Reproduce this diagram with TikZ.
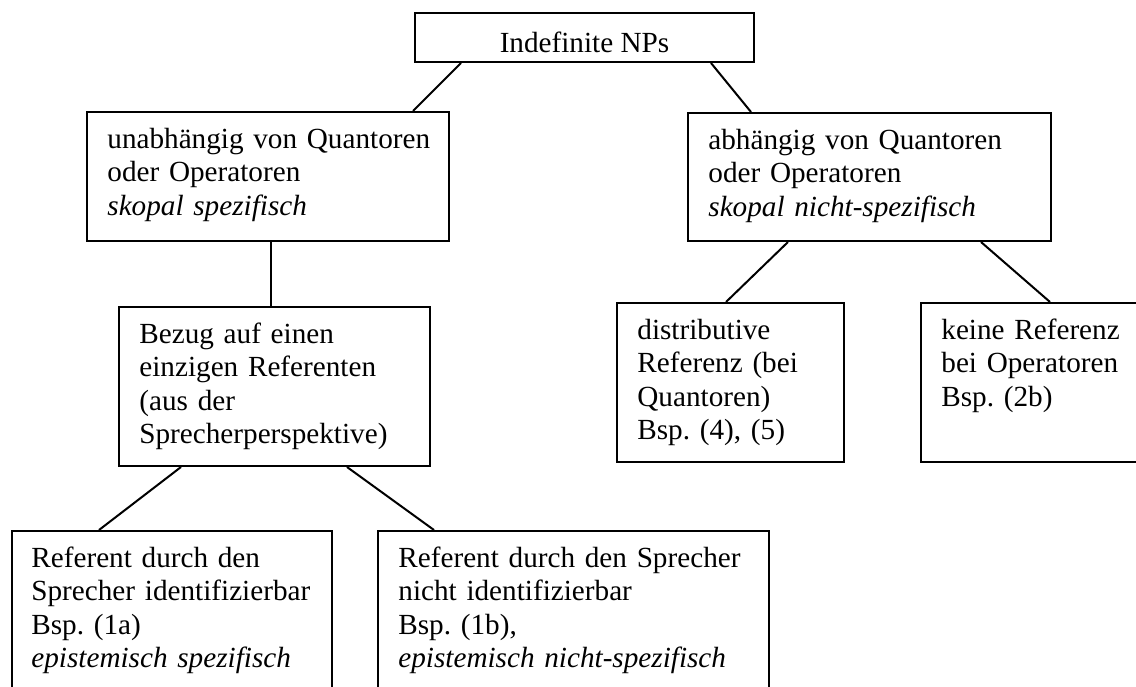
\documentclass[tikz,border=0pt]{standalone}
\usepackage{fontspec}
\setmainfont{Liberation Serif}
\usetikzlibrary{calc}
\frenchspacing
\begin{document}
\begin{tikzpicture}[x=0.5pt,y=-0.5pt,
  box/.style={draw,line width=1pt,inner sep=0pt,rectangle},
  txt/.style={anchor=base west,inner sep=0pt,align=left,text width=200pt,font=\fontsize{14.6pt}{16.75pt}\selectfont},
  link/.style={line width=1pt}]
\useasboundingbox (0,0) rectangle (1136,686);
\clip (0,0) rectangle (1136,686);
% boxes
\node[box,minimum width=169.5pt,minimum height=24.5pt] (T) at (584.5,37.5) {};
\node[box,minimum width=181pt,minimum height=64.5pt] (A) at (268,176.5) {};
\node[box,minimum width=181.5pt,minimum height=64pt] (B) at (869.5,177) {};
\node[box,minimum width=155.5pt,minimum height=79.5pt] (C) at (274.5,386.5) {};
\node[box,minimum width=113.5pt,minimum height=79.5pt] (D) at (730.5,382.5) {};
\node[box,minimum width=119.5pt,minimum height=79.5pt] (E) at (1040.5,382.5) {};
\node[box,minimum width=160pt,minimum height=84.5pt] (F) at (172,615.5) {};
\node[box,minimum width=195.5pt,minimum height=84.5pt] (G) at (573.5,615.5) {};
% texts
\node[anchor=base,inner sep=0pt,font=\fontsize{14.6pt}{16.75pt}\selectfont] (tT) at (584.5,52.5) {Indefinite NPs};
\node[txt] (tA) at ($(A.north west)+(21,37)$) {unabhängig von Quantoren\\oder Operatoren\\\textit{skopal spezifisch}};
\node[txt] (tB) at ($(B.north west)+(21,37)$) {abhängig von Quantoren\\oder Operatoren\\\textit{skopal nicht-spezifisch}};
\node[txt] (tC) at ($(C.north west)+(21,37)$) {Bezug auf einen\\einzigen Referenten\\(aus der\\Sprecherperspektive)};
\node[txt] (tD) at ($(D.north west)+(21,37)$) {distributive\\Referenz (bei\\Quantoren)\\Bsp. (4), (5)};
\node[txt] (tE) at ($(E.north west)+(21,37)$) {keine Referenz\\bei Operatoren\\Bsp. (2b)};
\node[txt] (tF) at ($(F.north west)+(20,37)$) {Referent durch den\\Sprecher identifizierbar\\Bsp. (1a)\\\textit{epistemisch spezifisch}};
\node[txt] (tG) at ($(G.north west)+(21,37)$) {Referent durch den Sprecher\\nicht identifizierbar\\Bsp. (1b),\\\textit{epistemisch nicht-spezifisch}};
% connectors
\draw[link] ($(T.south west)+(47,0)$) -- ($(A.north east)+(-37,0)$);
\draw[link] ($(T.south west)+(297,0)$) -- ($(B.north west)+(64,0)$);
\draw[link] ($(A.south west)+(185,0)$) -- ($(C.north west)+(153,0)$);
\draw[link] ($(B.south west)+(101,0)$) -- ($(D.north west)+(110,0)$);
\draw[link] ($(B.south west)+(294,0)$) -- ($(E.north west)+(130,0)$);
\draw[link] ($(C.south west)+(63,0)$) -- ($(F.north west)+(88,0)$);
\draw[link] ($(C.south west)+(229,0)$) -- ($(G.north west)+(57,0)$);
\end{tikzpicture}
\end{document}
